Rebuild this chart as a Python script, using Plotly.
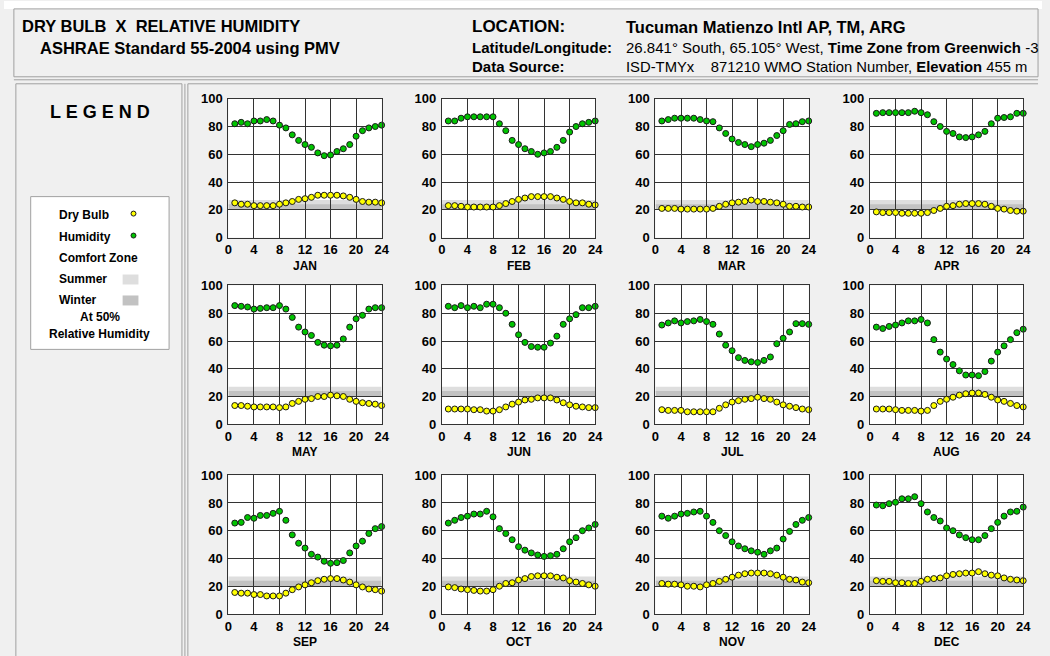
import plotly.graph_objects as go

W, H = 1050, 656
hours = list(range(1, 25))
months = ["JAN", "FEB", "MAR", "APR", "MAY", "JUN", "JUL", "AUG", "SEP", "OCT", "NOV", "DEC"]

dry_bulb = {
    "JAN": [25, 24, 24, 23, 23, 23, 23, 24, 25, 26, 27.5, 28, 29, 30.5, 30.5, 30.5, 30.5, 30, 29, 27.5, 26, 25.5, 25.5, 25],
    "FEB": [23, 23, 22.5, 22, 22, 22, 22, 22, 23, 24.5, 26, 27.5, 28.5, 29.5, 29.5, 29.5, 29.5, 28.5, 27.5, 26, 25, 25, 24, 23.5],
    "MAR": [21, 21, 21, 20.5, 20.5, 20.5, 20.5, 20.5, 21, 22.5, 24, 25, 25.5, 26, 27, 26, 26, 25.5, 25, 24, 22.5, 22.5, 22, 22],
    "APR": [18.5, 18, 18, 18, 17.5, 17.5, 17.5, 17.5, 18, 19.5, 21, 22.5, 23, 24, 24.5, 24.5, 24.5, 24, 22.5, 21, 20.5, 19.5, 19, 19],
    "MAY": [13.5, 13.5, 13, 12.5, 12.5, 12.5, 12.5, 12, 12.5, 15, 16.5, 18, 18.5, 20, 20, 21, 20.5, 20, 18, 16.5, 15.5, 15, 14.5, 13.5],
    "JUN": [11, 11, 11, 11, 10.5, 10.5, 9.5, 9.5, 10.5, 12.5, 14.5, 16, 17.5, 18, 19, 19, 19, 17.5, 15.5, 14, 13, 12.5, 12, 12],
    "JUL": [10.5, 10, 10, 10, 9, 9, 9, 9, 9, 11.5, 14, 16, 17, 18, 18.5, 19.5, 18.5, 18, 16, 14, 13, 12, 11, 10.5],
    "AUG": [11, 11, 11, 10.5, 10, 10, 10, 9.5, 10, 13.5, 16.5, 18, 19.5, 21, 22, 22.5, 22.5, 21.5, 19.5, 17.5, 16.5, 15, 13.5, 12.5],
    "SEP": [15.5, 15, 15, 14, 14, 13, 13, 13, 15, 17.5, 19.5, 21, 22.5, 24, 25, 25.5, 25.5, 24.5, 23, 21, 19.5, 18, 17.5, 16.5],
    "OCT": [19.5, 19, 18, 17.5, 17, 16.5, 16.5, 17.5, 20, 22, 22.5, 24.5, 25.5, 27, 27.5, 27.5, 27.5, 26.5, 26, 24, 23, 22, 21, 20],
    "NOV": [22, 21.5, 21.5, 21, 20, 20, 19.5, 21, 22, 23.5, 25, 26.5, 28, 29, 29.5, 29.5, 29.5, 29, 28, 26.5, 25, 24.5, 23, 22.5],
    "DEC": [24, 23.5, 23.5, 22.5, 22.5, 22, 22, 23.5, 25, 25.5, 26, 27.5, 28.5, 29, 29.5, 29.5, 30.5, 29, 28, 27.5, 26, 25, 24.5, 24],
}

humidity = {
    "JAN": [82, 83, 82, 84, 84, 85, 84, 81, 79, 74, 70, 67, 65, 61, 59, 59.5, 62, 64, 67, 73, 77, 79, 80, 81],
    "FEB": [84, 84, 86, 87, 87, 87, 87, 87, 82, 77, 70, 67, 64, 62, 60, 61, 62, 65, 70, 76, 80, 82, 83, 84],
    "MAR": [84, 85, 86, 86, 86, 86, 85, 84, 83.5, 79, 75, 71, 68.5, 67, 65.5, 67, 68, 70, 73.5, 77, 81.5, 82, 83.5, 84],
    "APR": [89.5, 90, 90, 90, 90, 90, 91, 90, 88.5, 83.5, 80, 76.5, 75, 72.5, 72, 72.5, 74, 76.5, 82, 86, 86.5, 87, 89.5, 89.5],
    "MAY": [85.5, 85, 84.5, 83, 83.5, 84, 84, 85.5, 83, 77, 70, 66.5, 64, 59, 57, 56.5, 57, 61.5, 70, 76, 78.5, 83, 84, 84],
    "JUN": [85, 84, 85.5, 84, 85, 84, 86.5, 86.5, 84, 80, 72, 64.5, 59, 56, 55.5, 55.5, 58.5, 63.5, 72, 76, 79, 84, 84, 85],
    "JUL": [71.5, 73, 74.5, 73, 74, 74.5, 75.5, 74, 72, 65, 57, 53, 48, 46, 45, 44.5, 46, 48.5, 58, 62, 66.5, 72.5, 72.5, 72],
    "AUG": [70, 69, 70.5, 71.5, 73, 74.5, 74.5, 75.5, 73, 61, 52, 47, 43, 38.5, 35.5, 35.5, 35, 38, 45.5, 52, 56.5, 61, 66, 68.5],
    "SEP": [65.5, 66, 69.5, 69, 71, 71, 72.5, 74, 67.5, 57, 51, 47.5, 43, 41, 38, 36.5, 37, 38.5, 44, 49, 52.5, 58, 61.5, 63],
    "OCT": [65.5, 67.5, 69.5, 70.5, 72, 72, 74, 70, 61.5, 58, 53.5, 48.5, 46, 44, 42.5, 41.5, 42, 43, 47, 52, 55, 60, 62, 64.5],
    "NOV": [70.5, 69, 70.5, 72, 72.5, 73.5, 74, 70.5, 66, 60, 56.5, 52, 49, 47, 45.5, 44.5, 43, 45.5, 47.5, 54, 59.5, 64.5, 67.5, 69.5],
    "DEC": [78.5, 78, 79.5, 80.5, 83, 83, 84.5, 79.5, 73.5, 69.5, 67, 62, 60, 57, 55, 53.5, 53.5, 56.5, 61.5, 66, 70.5, 73.5, 74, 77],
}

summer_zone = [23, 27]
winter_zone = [20, 24]
x_ticks = [0, 4, 8, 12, 16, 20, 24]
y_ticks = [0, 20, 40, 60, 80, 100]

FONT = "Liberation Sans, Arial, sans-serif"
YELLOW = "#ffff00"
GREEN = "#00c400"
SUMMER_C = "#dedede"
WINTER_C = "#c2c2c2"
GRID_C = "#333333"

fig = go.Figure()
shapes = []
annotations = []

col_left = [227, 443, 659, 876]
row_top = [98, 285, 475]
pw, ph = 155, 139


def fx(px):
    return px / W


def sy(t):
    # vertical placement correction observed in renders
    return (t - 6.1) / 0.9786


def fy(py):
    return 1 - sy(py) / H


def prect(x0, y0, x1, y1, fill, line_c=None):
    shapes.append(dict(type="rect", xref="paper", yref="paper", x0=fx(x0), x1=fx(x1), y0=fy(y1), y1=fy(y0),
                       fillcolor=fill, line=(dict(color=line_c, width=1) if line_c else dict(width=0)),
                       layer="below"))


def pline(x0, y0, x1, y1, c="#a0a0a0"):
    shapes.append(dict(type="line", xref="paper", yref="paper", x0=fx(x0), x1=fx(x1), y0=fy(y0), y1=fy(y1),
                       line=dict(color=c, width=1), layer="below"))


# background panels
prect(0, 0, W, 8, "white")
prect(10, 8, 1046, 76, "#f0f0f0", "#a0a0a0")
pline(10, 79, 1046, 79)
prect(12, 83, 180, H + 12, "#f0f0f0", "#a0a0a0")
pline(183, 83, 183, H + 12)
pline(186, 83, 186, H + 12)
pline(186, 83, 1046, 83)

layout_axes = {}
for i, m in enumerate(months):
    r, c = divmod(i, 4)
    k = i + 1
    xa = "x" if k == 1 else f"x{k}"
    ya = "y" if k == 1 else f"y{k}"
    xkey = "xaxis" if k == 1 else f"xaxis{k}"
    ykey = "yaxis" if k == 1 else f"yaxis{k}"
    x0p, y0p = col_left[c], row_top[r]
    layout_axes[xkey] = dict(domain=[fx(x0p), fx(x0p + pw)], anchor=ya, range=[0, 24],
                             tickvals=x_ticks, showgrid=True, gridcolor=GRID_C, gridwidth=1.3,
                             showline=True, linecolor=GRID_C, linewidth=1.3, mirror=True,
                             zeroline=False, ticks="", fixedrange=True,
                             tickfont=dict(family=FONT, size=13, color="black", weight="bold"))
    layout_axes[ykey] = dict(domain=[fy(y0p + ph), fy(y0p)], anchor=xa, range=[0, 100],
                             tickvals=y_ticks, showgrid=True, gridcolor=GRID_C, gridwidth=1.3,
                             showline=True, linecolor=GRID_C, linewidth=1.3, mirror=True,
                             zeroline=False, ticks="", fixedrange=True, ticklabelstandoff=2,
                             tickfont=dict(family=FONT, size=13, color="black", weight="bold"))
    shapes.append(dict(type="rect", xref=xa, yref=ya, x0=0, x1=24, y0=summer_zone[0], y1=summer_zone[1],
                       fillcolor=SUMMER_C, line=dict(width=0), layer="below"))
    shapes.append(dict(type="rect", xref=xa, yref=ya, x0=0, x1=24, y0=winter_zone[0], y1=winter_zone[1],
                       fillcolor=WINTER_C, line=dict(width=0), layer="below"))
    fig.add_trace(go.Scatter(x=hours, y=humidity[m], mode="markers", xaxis=xa, yaxis=ya,
                             marker=dict(color=GREEN, size=6, line=dict(color="#1a1a1a", width=1)),
                             cliponaxis=False, showlegend=False, hoverinfo="skip"))
    fig.add_trace(go.Scatter(x=hours, y=dry_bulb[m], mode="markers", xaxis=xa, yaxis=ya,
                             marker=dict(color=YELLOW, size=6, line=dict(color="#1a1a1a", width=1)),
                             cliponaxis=False, showlegend=False, hoverinfo="skip"))
    annotations.append(dict(xref="paper", yref="paper", x=fx(x0p + pw / 2), y=fy(y0p + ph + 28),
                            text=f"<b>{m}</b>", showarrow=False, xanchor="center", yanchor="middle",
                            font=dict(family=FONT, size=12, color="black")))


def txt(x, y, s, size, anchor="left", bold=True):
    annotations.append(dict(xref="paper", yref="paper", x=fx(x), y=fy(y),
                            text=(f"<b>{s}</b>" if bold else s), showarrow=False,
                            xanchor=anchor, yanchor="middle", borderpad=0,
                            font=dict(family=FONT, size=size, color="black")))


# header
txt(17, 25, "DRY BULB  X  RELATIVE HUMIDITY", 16.5)
txt(35, 47, "ASHRAE Standard 55-2004 using PMV", 16.5)
txt(472, 26, "LOCATION:", 17)
txt(628, 26, "Tucuman Matienzo Intl AP, TM, ARG", 16.5)
txt(472, 47, "Latitude/Longitude:", 15)
txt(628, 47, "26.841° South, 65.105° West, <b>Time Zone from Greenwich</b> -3", 15, bold=False)
txt(472, 66, "Data Source:", 15)
txt(628, 66, "ISD-TMYx    871210 WMO Station Number, <b>Elevation</b> 455 m", 14.8, bold=False)

# legend panel
txt(97, 111, "L E G E N D", 18, anchor="center")
prect(27, 196, 167, 349, "white", "#a0a0a0")
txt(55, 214, "Dry Bulb", 12)
txt(55, 236, "Humidity", 12)
txt(55, 257, "Comfort Zone", 12)
txt(55, 279, "Summer", 12)
txt(55, 300, "Winter", 12)
txt(97, 317, "At 50%", 12, anchor="center")
txt(97, 334, "Relative Humidity", 12, anchor="center")
prect(120, 274, 136, 284, SUMMER_C)
prect(120, 295, 136, 305, WINTER_C)
for cy, col in [(213, YELLOW), (235, GREEN)]:
    shapes.append(dict(type="circle", xref="paper", yref="paper", x0=fx(128.5), x1=fx(133.5),
                       y0=fy(cy + 2.5), y1=fy(cy - 2.5), fillcolor=col,
                       line=dict(color="#1a1a1a", width=1), layer="above"))

fig.update_layout(width=W, height=H, margin=dict(l=0, r=0, t=0, b=0),
                  paper_bgcolor="#f0f0f0", plot_bgcolor="white",
                  shapes=shapes, annotations=annotations, showlegend=False, **layout_axes)

post = (
    "document.documentElement.style.margin='0';document.documentElement.style.padding='0';"
    "document.documentElement.style.overflow='hidden';"
    "document.body.style.margin='0';document.body.style.padding='0';document.body.style.overflow='hidden';"
    "var gd=document.getElementsByClassName('plotly-graph-div')[0];"
    "gd.style.position='fixed';gd.style.left='0px';gd.style.top='0px';"
)
fig.write_html("out.html", config={"displayModeBar": False}, post_script=post)
